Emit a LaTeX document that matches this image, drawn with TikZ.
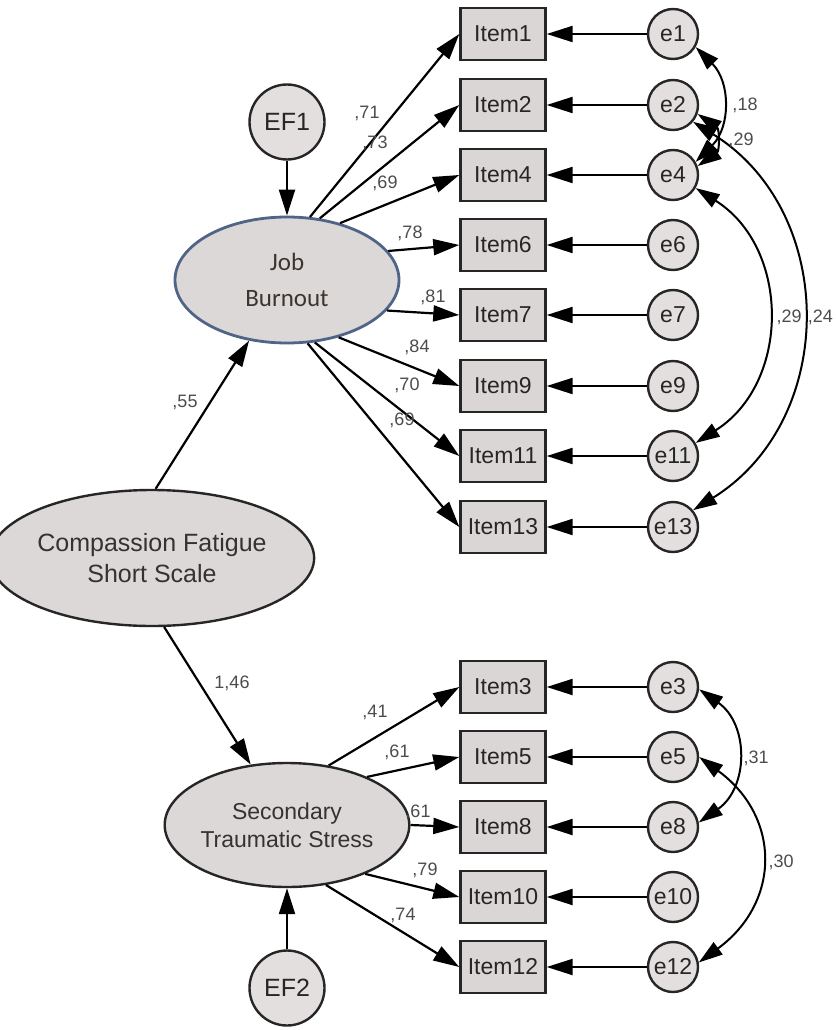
\documentclass[tikz,border=0pt]{standalone}
\usepackage{fontspec}
\setmainfont{Liberation Sans}
\newfontfamily\jbfont{Carlito}
\usetikzlibrary{shapes.geometric,arrows.meta}
\definecolor{boxfill}{RGB}{218,214,213}
\definecolor{circfill}{RGB}{226,223,222}
\definecolor{latfill}{RGB}{220,216,215}
\definecolor{jbline}{RGB}{80,100,135}
\definecolor{jbtext}{RGB}{60,52,48}
\begin{document}
\begin{tikzpicture}[x=1pt,y=-1pt,
  item/.style={draw=black!85,line width=2.4pt,fill=boxfill,minimum width=85pt,minimum height=52pt,inner sep=0pt,font=\fontsize{23}{25}\selectfont,text=black!85},
  err/.style={draw=black!85,circle,line width=2.4pt,fill=circfill,minimum size=50pt,inner sep=0pt,font=\fontsize{23}{25}\selectfont,text=black!85},
  ef/.style={err,minimum size=75pt,font=\fontsize{25}{27}\selectfont},
  latent/.style={draw=black!85,ellipse,line width=2.4pt,fill=latfill,inner sep=0pt,align=center,text=black!80},
  reg/.style={draw,line width=2.2pt,-{Triangle[length=26pt,width=16pt]}},
  cov/.style={draw,line width=2pt,{Triangle[length=24pt,width=15pt]}-{Triangle[length=24pt,width=15pt]}},
  num/.style={font=\fontsize{18}{19}\selectfont,text=black!70,inner sep=0pt}]
\useasboundingbox (0,0) rectangle (835,1030);

% latent variables
\node[latent,draw=jbline,line width=2.8pt,minimum width=224pt,minimum height=126pt,
  font=\jbfont\fontsize{25}{36}\selectfont,text=jbtext] (jb) at (287,280) {Job\\Burnout};
\node[latent,minimum width=284pt,minimum height=136pt,font=\fontsize{25}{31}\selectfont] (cf) at (152,558) {Compassion Fatigue\\Short Scale};
\node[latent,minimum width=232pt,minimum height=124pt,font=\fontsize{23}{28}\selectfont] (sts) at (287,825) {Secondary\\Traumatic Stress};
\node[ef] (ef1) at (287,122) {EF1};
\node[ef] (ef2) at (287,988) {EF2};

% items and errors
\foreach \n/\y in {1/34,2/105,4/175,6/245,7/315,9/386,11/456,13/527,3/687,5/757,8/827,10/897,12/967} {
  \node[item] (i\n) at (503,\y) {Item\n};
  \node[err] (e\n) at (673,\y) {e\n};
  \path[reg] (e\n) -- (i\n);
}

% structural paths
\path[reg] (ef1) -- (jb);
\path[reg] (ef2) -- (sts);
\path[reg] (cf.87) -- (jb.238);
\path[reg] (cf.-80) -- (sts.121);

% loadings
\path[reg] (jb.70) -- (i1.west);
\path[reg] (jb.62) -- (i2.west);
\path[reg] (jb.47) -- (i4.west);
\path[reg] (jb.16) -- (i6.west);
\path[reg] (jb.-17) -- (i7.west);
\path[reg] (jb.-48) -- (i9.west);
\path[reg] (jb.-66) -- (i11.west);
\path[reg] (jb.-72) -- (i13.west);
\path[reg] (sts.55) -- (i3.west);
\path[reg] (sts.31) -- (i5.west);
\path[reg] (sts.0) -- (i8.west);
\path[reg] (sts.-32) -- (i10.west);
\path[reg] (sts.-57) -- (i12.west);

% covariances
\path[cov] (e1.-30) .. controls +(35,35) and +(35,-35) .. (e4.30);
\path[cov] (e2.-20) .. controls +(22,15) and +(22,-15) .. (e4.20);
\path[cov] (e4.-30) .. controls +(95,60) and +(95,-60) .. (e11.30);
\path[cov] (e2.-40) .. controls +(145,90) and +(145,-90) .. (e13.40);
\path[cov] (e3.-5) .. controls +(50,35) and +(50,-35) .. (e8.10);
\path[cov] (e5.0) .. controls +(82,60) and +(82,-60) .. (e12.10);

% estimates
\node[num] (n1) at (367,113) {,71};
\node[num] (n2) at (375,143) {,73};
\node[num] (n4) at (385,183) {,69};
\node[num] (n6) at (410,233) {,78};
\node[num] (n7) at (433,297) {,81};
\node[num] (n9) at (417,347) {,84};
\node[num] (n11) at (407,385) {,70};
\node[num] (n13) at (402,420) {,69};
\node[num] (n3) at (375,712) {,41};
\node[num] (n5) at (397,752) {,61};
\node[num] (n8) at (418,812) {,61};
\node[num] (n10) at (425,870) {,79};
\node[num] (n12) at (403,915) {,74};
\node[num] (njb) at (185,402) {,55};
\node[num] (nsts) at (232,683) {1,46};
\node[num] (c14) at (745,105) {,18};
\node[num] (c24) at (741,140) {,29};
\node[num] (c411) at (789,317) {,29};
\node[num,anchor=east] (c213) at (833,317) {,24};
\node[num] (c38) at (756,758) {,31};
\node[num] (c512) at (781,862) {,30};
\end{tikzpicture}
\end{document}
